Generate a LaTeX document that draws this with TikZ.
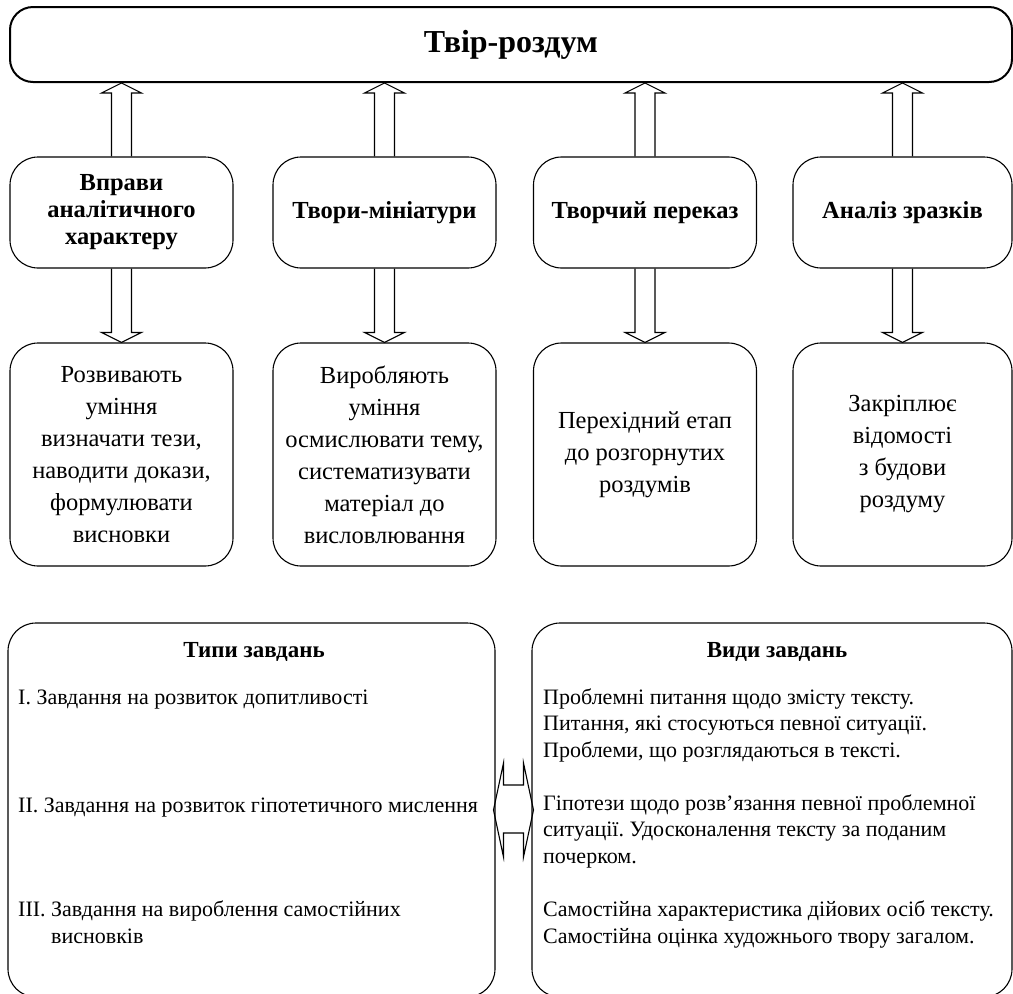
\documentclass[tikz,border=0pt]{standalone}
\usepackage{fontspec}
\setmainfont{Liberation Serif}
\usetikzlibrary{calc}
\frenchspacing

\begin{document}
\begin{tikzpicture}[x=1pt, y=-1pt,
    box/.style={draw, rounded corners=28pt, line width=1.1pt, inner sep=4pt, align=center},
    headbox/.style={box, font=\fontsize{24.5}{27}\selectfont\bfseries, minimum width=223pt, minimum height=111pt},
    infobox/.style={box, font=\fontsize{24.5}{32}\selectfont, minimum width=223pt, minimum height=223pt},
    item/.style={anchor=base west, align=left, inner sep=0pt, font=\fontsize{22}{26.5}\selectfont},
    caption/.style={anchor=base, inner sep=0pt, font=\fontsize{23}{28}\selectfont\bfseries},
    blk/.style={line width=1.1pt, line join=miter},]

        \useasboundingbox (0,0) rectangle (1013,994);
        \clip (0,0) rectangle (1013,994);

        % Title box
        \node[box, line width=2pt, rounded corners=23pt, minimum width=1002pt, minimum height=75pt,
              font=\fontsize{32}{36}\selectfont\bfseries] (top) at (511,44.5) {Твір-роздум};

        % Kinds of work
        \node[headbox] (m1) at (121.5,212.5) {Вправи\\аналітичного\\характеру};
        \node[headbox] (m2) at (384.5,212.5) {Твори-мініатури};
        \node[headbox] (m3) at (645,212.5) {Творчий переказ};
        \node[headbox, minimum width=219pt] (m4) at (902.5,212.5) {Аналіз зразків};

        % What each one gives
        \node[infobox] (l1) at (121.5,454.5) {Розвивають\\уміння\\визначати тези,\\наводити докази,\\формулювати\\висновки};
        \node[infobox] (l2) at (384.5,454.5) {Виробляють\\уміння\\осмислювати тему,\\систематизувати\\матеріал до\\висловлювання};
        \node[infobox] (l3) at (645,454.5) {Перехідний етап\\до розгорнутих\\роздумів};
        \node[infobox, minimum width=219pt] (l4) at (902.5,454.5) {Закріплює\\відомості\\з будови\\роздуму};

        % Block arrows up and down
        \foreach \i in {1,...,4}{
            \draw[blk] ($(m\i.north)+(-10,0)$) -- ($(top.south -| m\i.north)+(-10,10)$) -- ++(-10,0)
                -- (top.south -| m\i.north) -- ++(20,10) -- ++(-10,0) -- ($(m\i.north)+(10,0)$);
            \draw[blk] ($(m\i.south)+(-10,0)$) -- ($(l\i.north)+(-10,-10)$) -- ++(-10,0)
                -- (l\i.north) -- ++(20,-10) -- ++(-10,0) -- ($(m\i.south)+(10,0)$);
        }

        % Lower boxes
        \node[box, minimum width=487pt, minimum height=374pt] (typ) at (251.5,810) {};
        \node[box, minimum width=480pt, minimum height=374pt] (vyd) at (772,810) {};

        \node[caption] (typH) at (254,657) {Типи завдань};
        \node[caption] (vydH) at (777,657) {Види завдань};

        % base = last line of each text
        \node[item] (t1) at (18,704) {I. Завдання на розвиток допитливості};
        \node[item] (t2) at (18,812) {II. Завдання на розвиток гіпотетичного мислення};
        \node[item] (t3) at (18,943) {III. Завдання на вироблення самостійних\\\phantom{III.~}висновків};

        \node[item] (v1) at (543,757) {Проблемні питання щодо змісту тексту.\\Питання, які стосуються певної ситуації.\\Проблеми, що розглядаються в тексті.};
        \node[item] (v2) at (543,863) {Гіпотези щодо розв’язання певної проблемної\\ситуації. Удосконалення тексту за поданим\\почерком.};
        \node[item] (v3) at (543,943) {Самостійна характеристика дійових осіб тексту.\\Самостійна оцінка художнього твору загалом.};

        % Double arrow between the lower boxes
        \coordinate (mid) at ($(typ.east)!0.5!(vyd.west)$);
        \draw[blk] ($(mid)+(-20,0)$) -- ++(10,-47) -- ++(0,22) -- ++(20,0) -- ++(0,-22) -- ++(10,47)
            -- ++(-10,47) -- ++(0,-24) -- ++(-20,0) -- ++(0,24) -- cycle;

    \end{tikzpicture}
\end{document}
